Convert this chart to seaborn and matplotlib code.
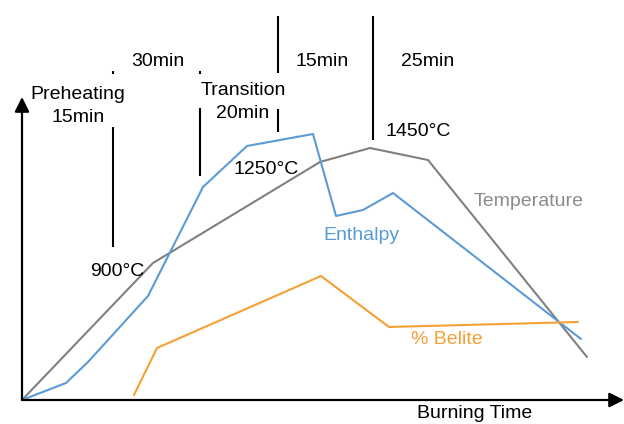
import numpy as np
import pandas as pd
import matplotlib
matplotlib.use('Agg')
import matplotlib.pyplot as plt
import seaborn as sns

# 곡선 데이터 (그림에서 읽은 값, 세로축은 위쪽이 +)
temp_x = [22, 153, 320, 370, 428, 587]
temp_y = [24, 161, 262, 276, 264, 67]

enth_x = [22, 66, 88, 148, 203, 247, 313, 336, 363, 393, 581]
enth_y = [24, 41, 62, 128, 237, 278, 290, 208, 214, 231, 85]

belite_x = [134, 157, 321, 389, 578]
belite_y = [29, 76, 148, 97, 102]

# 구간 나누는 세로선
div_x = [113, 200, 278, 278, 373, 113, 200]
div_top = [297, 316, 408, 315, 408, 353, 353]
div_bottom = [177, 248, 351, 292, 284, 350, 350]

# 글자
labels = ['30min', 'Preheating\n15min', 'Transition\n20min', '1250°C',
          '15min', '25min', '1450°C', '900°C']
label_x = [158, 78, 243, 266, 322, 428, 418, 117]
label_y = [362, 318, 322, 255, 363, 363, 293, 153]

sns.set_theme(style='white')
plt.rcParams['font.family'] = ['Liberation Sans', 'DejaVu Sans']

blue = '#5b9bd5'
orange = '#f5a033'
gray = '#808080'

fig = plt.figure(figsize=(6.24, 4.24), dpi=100)
ax = fig.add_axes([0, 0, 1, 1])

df = pd.concat([
    pd.DataFrame({'x': temp_x, 'y': temp_y, 's': 'Temperature'}),
    pd.DataFrame({'x': enth_x, 'y': enth_y, 's': 'Enthalpy'}),
    pd.DataFrame({'x': belite_x, 'y': belite_y, 's': '% Belite'}),
])
sns.lineplot(data=df, x='x', y='y', hue='s', sort=False, estimator=None,
             palette={'Temperature': gray, 'Enthalpy': blue, '% Belite': orange},
             lw=1.5, legend=False, ax=ax)

ax.vlines(div_x, div_bottom, div_top, color='black', lw=1.5)

# 축 화살표
arrow = dict(arrowstyle='-|>', mutation_scale=22, lw=1.6, color='black',
             shrinkA=0, shrinkB=0)
ax.annotate('', xy=(624, 24), xytext=(22, 24), arrowprops=arrow)
ax.annotate('', xy=(22, 327), xytext=(22, 24), arrowprops=arrow)

for t, x, y in zip(labels, label_x, label_y):
    ax.text(x, y, t, ha='center', va='center', fontsize=14, color='black',
            linespacing=1.45)

ax.text(529, 223, 'Temperature', ha='center', va='center', fontsize=14, color='#8c8c8c')
ax.text(361, 188, 'Enthalpy', ha='center', va='center', fontsize=14, color=blue)
ax.text(447, 85, '% Belite', ha='center', va='center', fontsize=14, color=orange)
ax.text(475, 10, 'Burning Time', ha='center', va='center', fontsize=14, color='black')

ax.set_xlim(0, 624)
ax.set_ylim(0, 424)
ax.axis('off')

fig.savefig('out.png', dpi=100)
